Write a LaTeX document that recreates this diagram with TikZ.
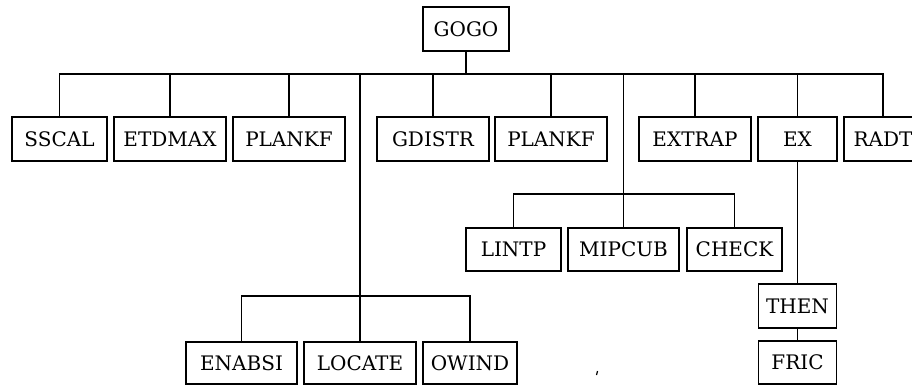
\documentclass[tikz,border=0pt]{standalone}
\usepackage{fontspec}
\setmainfont{DejaVu Serif}
\begin{document}
\begin{tikzpicture}[x=1pt,y=-1pt,
  box/.style={draw, line width=1.6pt, rectangle, inner sep=0pt,
    minimum height=44pt, font=\fontsize{20}{22}\selectfont},
  link/.style={line width=1.5pt}]
\useasboundingbox (0,0) rectangle (912,385);
\fill[white] (0,0) rectangle (912,385);

% root
\node[box, minimum width=86pt] (gogo) at (466,29) {GOGO};

% first level
\node[box, minimum width=95pt]  (sscal)   at (59.5,139) {SSCAL};
\node[box, minimum width=112pt] (etdmax)  at (170,139)  {ETDMAX};
\node[box, minimum width=112pt] (plankfa) at (289,139)  {PLANKF};
\node[box, minimum width=112pt] (gdistr)  at (433,139)  {GDISTR};
\node[box, minimum width=112pt] (plankfb) at (551,139)  {PLANKF};
\node[box, minimum width=112pt] (extrap)  at (695,139)  {EXTRAP};
\node[box, minimum width=79pt]  (ex)      at (797.5,139) {EX};
\node[box, minimum width=78pt]  (radt)    at (883,139)  {RADT};

% interpolation group
\node[box, minimum width=95pt, minimum height=43pt]  (lintp)  at (513.5,249.5) {LINTP};
\node[box, minimum width=111pt, minimum height=43pt] (mipcub) at (623.5,249.5) {MIPCUB};
\node[box, minimum width=95pt, minimum height=43pt]  (check)  at (734.5,249.5) {CHECK};

% location group
\node[box, minimum width=111pt, minimum height=42pt] (enabsi) at (241.5,363) {ENABSI};
\node[box, minimum width=112pt, minimum height=42pt] (locate) at (360,363)   {LOCATE};
\node[box, minimum width=94pt, minimum height=42pt]  (owind)  at (470,363)   {OWIND};

% chain below EX
\node[box, minimum width=78pt] (then) at (797.5,306) {THEN};
\node[box, minimum width=78pt, minimum height=43pt] (fric) at (797.5,362.5) {FRIC};

% junction points
\coordinate (hub) at (466,74);
\coordinate (jloc) at (360,296);
\coordinate (jint) at (623.5,194);

\draw[link] (gogo) -- (hub);
\foreach \c in {sscal,etdmax,plankfa,gdistr,plankfb,extrap,ex,radt}
  \draw[link] (hub) -| (\c.north);
\draw[link] (hub) -| (jloc);
\draw[link] (hub) -| (jint);
\foreach \c in {enabsi,locate,owind}
  \draw[link] (jloc) -| (\c.north);
\foreach \c in {lintp,mipcub,check}
  \draw[link] (jint) -| (\c.north);
\draw[link] (ex) -- (then);
\draw[link] (then) -- (fric);

% small stray mark
\draw[line width=1.2pt] (596.5,375) -- (597.5,371);
\end{tikzpicture}
\end{document}
